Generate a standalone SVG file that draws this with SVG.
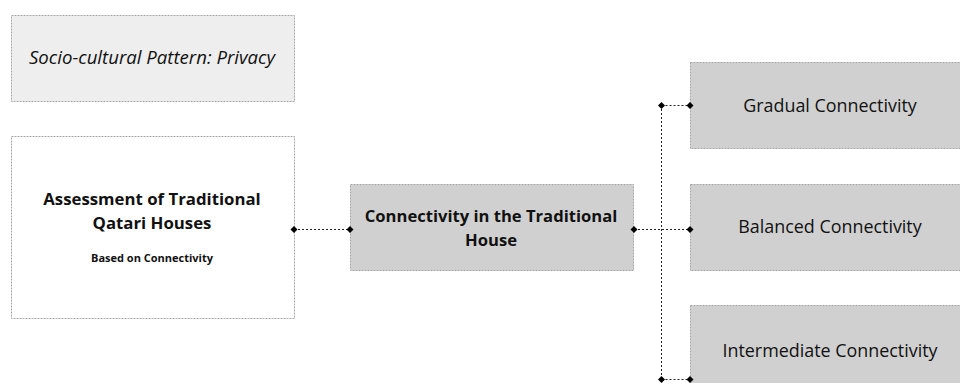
<svg xmlns="http://www.w3.org/2000/svg" width="960" height="383" viewBox="0 0 960 383">
<style>
.box{stroke:#a6a6a6;stroke-width:1;stroke-dasharray:2 1}
.t{font-family:"Open Sans","Liberation Sans",sans-serif;fill:#111;text-anchor:middle}
.c{fill:none;stroke:#222;stroke-width:1;stroke-dasharray:2 2}
</style>
<defs>
<marker id="d" viewBox="-4 -4 8 8" markerWidth="8" markerHeight="8" markerUnits="userSpaceOnUse" refX="0" refY="0" orient="auto">
<path d="M-3.5 0L0 -3.5L3.5 0L0 3.5Z" fill="#000"/>
</marker>
</defs>
<g id="privacy">
<rect class="box" x="11.5" y="15.5" width="283" height="86" fill="#eeeeee"/>
<text class="t" x="152" y="64" font-size="18.6" font-style="italic">Socio-cultural Pattern: Privacy</text>
</g>
<g id="assessment">
<rect class="box" x="11.5" y="136.5" width="283" height="182" fill="#ffffff"/>
<text class="t" x="152" y="205" font-size="16.8" font-weight="bold">Assessment of Traditional</text>
<text class="t" x="152" y="229" font-size="16.8" font-weight="bold">Qatari Houses</text>
<text class="t" x="152" y="262" font-size="11" font-weight="bold">Based on Connectivity</text>
</g>
<g id="connectivity">
<rect class="box" x="350.5" y="184.5" width="283" height="86" fill="#d0d0d0"/>
<text class="t" x="491" y="222" font-size="16.6" font-weight="bold">Connectivity in the Traditional</text>
<text class="t" x="491" y="246" font-size="16.6" font-weight="bold">House</text>
</g>
<g id="gradual">
<rect class="box" x="690.5" y="62.5" width="284" height="86" fill="#d0d0d0"/>
<text class="t" x="830" y="112" font-size="17.9">Gradual Connectivity</text>
</g>
<g id="balanced">
<rect class="box" x="690.5" y="184.5" width="284" height="86" fill="#d0d0d0"/>
<text class="t" x="830" y="233" font-size="17.9">Balanced Connectivity</text>
</g>
<g id="intermediate">
<rect class="box" x="690.5" y="305.5" width="284" height="86" fill="#d0d0d0"/>
<text class="t" x="830" y="357" font-size="17.9">Intermediate Connectivity</text>
</g>
<g id="connectors">
<path class="c" d="M294 229.5H350" marker-start="url(#d)" marker-end="url(#d)"/>
<path class="c" d="M634 229.5H690" marker-start="url(#d)" marker-end="url(#d)"/>
<path class="c" d="M661.5 105V380"/>
<path class="c" d="M661.5 105.5H690" marker-start="url(#d)" marker-end="url(#d)"/>
<path class="c" d="M661.5 379.5H690" marker-start="url(#d)" marker-end="url(#d)"/>
</g>
</svg>
